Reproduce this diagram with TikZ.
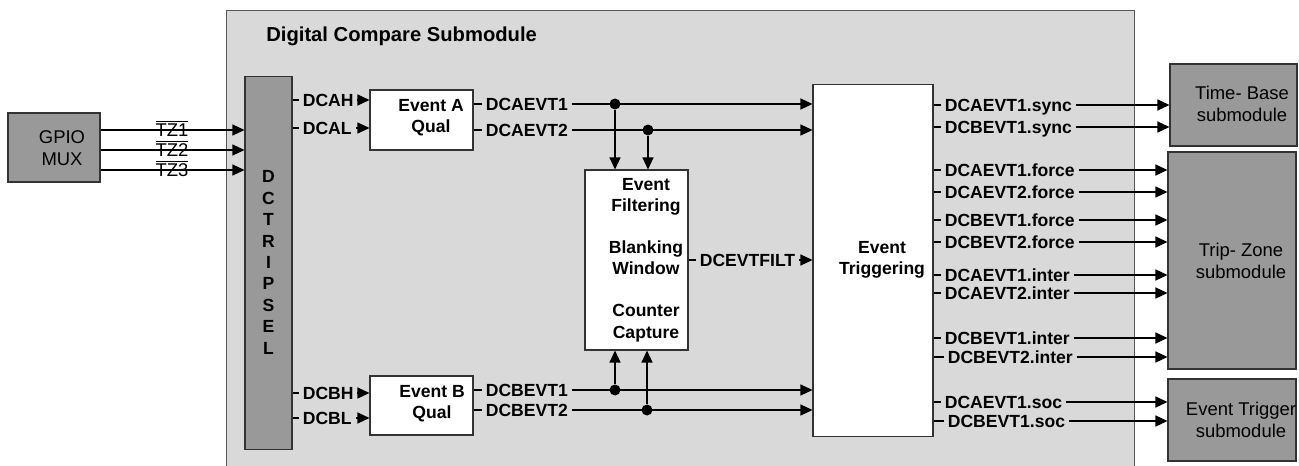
\documentclass[tikz,border=0pt]{standalone}
\usepackage{fontspec}
\setmainfont{Liberation Sans}
\usetikzlibrary{arrows.meta, positioning}

\begin{document}
\begin{tikzpicture}[x=0.02cm, y=-0.02cm,
    outer/.style={draw=black!65, fill=black!15, line width=0.6pt},
    blk/.style={draw=black!80, fill=white, line width=0.6pt},
    gblk/.style={draw=black!80, fill=black!40, line width=0.6pt},
    btxt/.style={align=center, font=\fontsize{10}{12}\selectfont\bfseries},
    gtxt/.style={align=center, font=\fontsize{10.5}{12.6}\selectfont},
    sig/.style={anchor=west, inner xsep=2pt, inner ysep=0pt, text height=7.2pt,
                text depth=0pt, font=\fontsize{10}{12}\selectfont\bfseries},
    wire/.style={line width=0.6pt},
    arr/.style={wire, -{Triangle[length=2.4mm, width=2.2mm]}},
    dot/.style={circle, fill, inner sep=0pt, minimum size=2.2mm}
]
\useasboundingbox (0,0) rectangle (1299,466);

% submodule frame
\node[outer, minimum width=18.18cm, minimum height=9.6cm] (dcsub) at (680.5,250) {};
\node[anchor=west, inner sep=0pt, font=\fontsize{11.5}{13}\selectfont\bfseries] (title) at (266,36) {Digital Compare Submodule};

% blocks
\node[gblk, minimum width=1.84cm, minimum height=1.38cm] (gpio) at (54,147.5) {};
\node[gtxt] (gpiotxt) at (62,148) {GPIO\\MUX};
\node[gblk, minimum width=0.94cm, minimum height=7.48cm] (dctrip) at (268.5,263) {};
\node[btxt, font=\fontsize{10}{12.2}\selectfont\bfseries] (dctriptxt) at (268.5,262.5) {D\\C\\T\\R\\I\\P\\S\\E\\L};
\node[blk, minimum width=2.06cm, minimum height=1.2cm] (evA) at (421.5,120) {};
\node[btxt] (evAtxt) at (431,118) {Event A\\Qual};
\node[blk, minimum width=2.06cm, minimum height=1.18cm] (evB) at (421.5,405.5) {};
\node[btxt] (evBtxt) at (432,404) {Event B\\Qual};
\node[blk, minimum width=2.06cm, minimum height=3.6cm] (filt) at (636.5,260) {};
\node[btxt] (filttxt) at (646,260) {Event\\Filtering\\[12pt]Blanking\\Window\\[12pt]Counter\\Capture};
\node[blk, minimum width=2.4cm, minimum height=7.06cm] (trig) at (873,260.5) {};
\node[btxt] (trigtxt) at (882,260) {Event\\Triggering};
\node[gblk, minimum width=2.54cm, minimum height=1.64cm] (tb) at (1233.5,105) {};
\node[gtxt] (tbtxt) at (1242,104) {Time- Base\\submodule};
\node[gblk, minimum width=2.56cm, minimum height=4.34cm] (tz) at (1232,260.5) {};
\node[gtxt] (tztxt) at (1241,261) {Trip- Zone\\submodule};
\node[gblk, minimum width=2.56cm, minimum height=1.64cm] (et) at (1232,420) {};
\node[gtxt] (ettxt) at (1241,420) {Event Trigger\\submodule};

% trip inputs
\node[gtxt, inner ysep=0pt, text height=7.4pt, text depth=0pt] (tz1) at (172,130) {$\overline{\mbox{TZ1}}$};
\node[gtxt, inner ysep=0pt, text height=7.4pt, text depth=0pt] (tz2) at (172,150) {$\overline{\mbox{TZ2}}$};
\node[gtxt, inner ysep=0pt, text height=7.4pt, text depth=0pt] (tz3) at (172,170) {$\overline{\mbox{TZ3}}$};
\draw[arr] (gpio.east |- tz1) -- (dctrip.west |- tz1);
\draw[arr] (gpio.east |- tz2) -- (dctrip.west |- tz2);
\draw[arr] (gpio.east |- tz3) -- (dctrip.west |- tz3);

% DCTRIPSEL outputs
\node[sig] (dcah) at (299,100) {DCAH};
\node[sig] (dcal) at (299,128) {DCAL};
\node[sig] (dcbh) at (299,393) {DCBH};
\node[sig] (dcbl) at (299,418) {DCBL};
\draw[wire] (dctrip.east |- dcah) -- (dcah.west);
\draw[wire] (dctrip.east |- dcal) -- (dcal.west);
\draw[wire] (dctrip.east |- dcbh) -- (dcbh.west);
\draw[wire] (dctrip.east |- dcbl) -- (dcbl.west);
\draw[arr] (dcah.east) -- (dcah.east -| evA.west);
\draw[arr] (dcal.east) -- (dcal.east -| evA.west);
\draw[arr] (dcbh.east) -- (dcbh.east -| evB.west);
\draw[arr] (dcbl.east) -- (dcbl.east -| evB.west);

% qualified events
\node[sig] (aevt1) at (482,104) {DCAEVT1};
\node[sig] (aevt2) at (482,130) {DCAEVT2};
\node[sig] (bevt1) at (482,390) {DCBEVT1};
\node[sig] (bevt2) at (482,410) {DCBEVT2};
\draw[wire] (evA.east |- aevt1) -- (aevt1.west);
\draw[wire] (evA.east |- aevt2) -- (aevt2.west);
\draw[wire] (evB.east |- bevt1) -- (bevt1.west);
\draw[wire] (evB.east |- bevt2) -- (bevt2.west);
\draw[arr] (aevt1.east) -- (aevt1.east -| trig.west);
\draw[arr] (aevt2.east) -- (aevt2.east -| trig.west);
\draw[arr] (bevt1.east) -- (bevt1.east -| trig.west);
\draw[arr] (bevt2.east) -- (bevt2.east -| trig.west);
\node[dot] (j1) at (615,104) {};
\node[dot] (j2) at (648,130) {};
\node[dot] (j3) at (615,390) {};
\node[dot] (j4) at (647,410) {};
\draw[arr] (j1) -- (j1 |- filt.north);
\draw[arr] (j2) -- (j2 |- filt.north);
\draw[arr] (j3) -- (j3 |- filt.south);
\draw[arr] (j4) -- (j4 |- filt.south);

% filter output
\node[sig] (evtfilt) at (696,260) {DCEVTFILT};
\draw[wire] (filt.east |- evtfilt) -- (evtfilt.west);
\draw[arr] (evtfilt.east) -- (evtfilt.east -| trig.west);

% triggering outputs
\node[sig] (o1) at (941,105) {DCAEVT1.sync};
\node[sig] (o2) at (941,127) {DCBEVT1.sync};
\node[sig] (o3) at (941,170) {DCAEVT1.force};
\node[sig] (o4) at (941,192) {DCAEVT2.force};
\node[sig] (o5) at (941,220) {DCBEVT1.force};
\node[sig] (o6) at (941,242) {DCBEVT2.force};
\node[sig] (o7) at (941,275) {DCAEVT1.inter};
\node[sig] (o8) at (941,293) {DCAEVT2.inter};
\node[sig] (o9) at (941,338) {DCBEVT1.inter};
\node[sig] (o10) at (944,357) {DCBEVT2.inter};
\node[sig] (o11) at (941,402) {DCAEVT1.soc};
\node[sig] (o12) at (944,421) {DCBEVT1.soc};
\draw[wire] (trig.east |- o1) -- (o1.west);
\draw[wire] (trig.east |- o2) -- (o2.west);
\draw[wire] (trig.east |- o3) -- (o3.west);
\draw[wire] (trig.east |- o4) -- (o4.west);
\draw[wire] (trig.east |- o5) -- (o5.west);
\draw[wire] (trig.east |- o6) -- (o6.west);
\draw[wire] (trig.east |- o7) -- (o7.west);
\draw[wire] (trig.east |- o8) -- (o8.west);
\draw[wire] (trig.east |- o9) -- (o9.west);
\draw[wire] (trig.east |- o10) -- (o10.west);
\draw[wire] (trig.east |- o11) -- (o11.west);
\draw[wire] (trig.east |- o12) -- (o12.west);
\draw[arr] (o1.east) -- (o1.east -| tb.west);
\draw[arr] (o2.east) -- (o2.east -| tb.west);
\draw[arr] (o3.east) -- (o3.east -| tz.west);
\draw[arr] (o4.east) -- (o4.east -| tz.west);
\draw[arr] (o5.east) -- (o5.east -| tz.west);
\draw[arr] (o6.east) -- (o6.east -| tz.west);
\draw[arr] (o7.east) -- (o7.east -| tz.west);
\draw[arr] (o8.east) -- (o8.east -| tz.west);
\draw[arr] (o9.east) -- (o9.east -| tz.west);
\draw[arr] (o10.east) -- (o10.east -| tz.west);
\draw[arr] (o11.east) -- (o11.east -| et.west);
\draw[arr] (o12.east) -- (o12.east -| et.west);
\end{tikzpicture}
\end{document}
